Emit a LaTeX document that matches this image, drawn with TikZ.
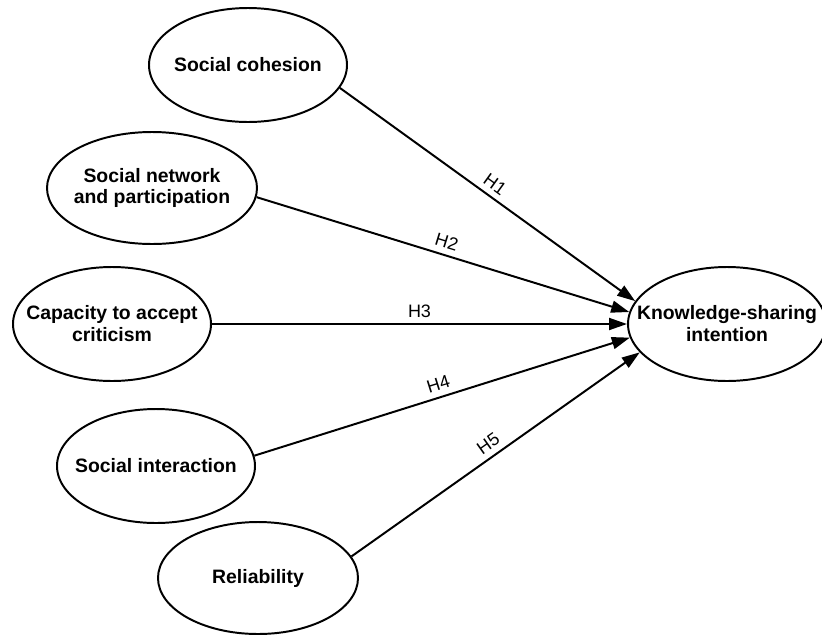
\documentclass[tikz,border=0pt]{standalone}
\usepackage{fontspec}
\setmainfont{Liberation Sans}
\usepackage{tikz}
\usetikzlibrary{shapes.geometric, arrows.meta}
\tikzset{
  construct/.style = {ellipse, draw, line width=1.4pt, inner xsep=-0.5cm, inner ysep=0pt,
                      minimum width=4.95cm, minimum height=2.85cm, align=center,
                      font=\fontsize{13.8}{15.6}\selectfont\bfseries},
  arrow/.style     = {line width=1.4pt, -{Triangle[length=4.5mm, width=3mm]}},
  hyp/.style       = {midway, above=3pt, sloped, inner sep=1pt,
                      font=\fontsize{12.8}{14}\selectfont},
}

\begin{document}
\begin{tikzpicture}

    \useasboundingbox (0, 0) rectangle (20.55, -15.925);

    \node[construct] (sc)  at (6.2, -1.625)  {Social cohesion};
    \node[construct, minimum width=5.25cm, minimum height=2.8cm] (snp) at (3.8, -4.7)
      {Social network\\and participation};
    \node[construct] (cac) at (2.8, -8.1)    {Capacity to accept\\criticism};
    \node[construct] (si)  at (3.9, -11.65)  {Social interaction};
    \node[construct, minimum width=5cm, minimum height=2.8cm] (rel) at (6.45, -14.45)
      {Reliability};

    \node[construct, minimum width=4.7cm] (ks) at (18.175, -8.1)
      {Knowledge-sharing\\intention};

    \draw[arrow] (sc.-14)  -- (ks.166) node[hyp] {H1};
    \draw[arrow] (snp.-5)  -- (ks.173) node[hyp] {H2};
    \draw[arrow] (cac.0)   -- (ks.180) node[hyp] {H3};
    \draw[arrow] (si.6)    -- (ks.188) node[hyp] {H4};
    \draw[arrow] (rel.13)  -- (ks.198) node[hyp] {H5};

\end{tikzpicture}
\end{document}
